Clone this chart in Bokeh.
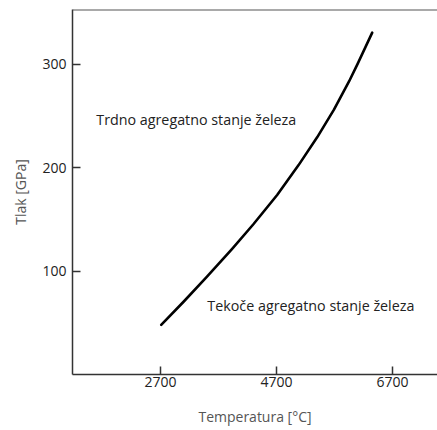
from bokeh.plotting import figure
from bokeh.models import Range1d, FixedTicker, Span, Label
from bokeh.embed import file_html
from bokeh.resources import INLINE

# Data
temperature = [2710, 3100, 3500, 3930, 4300, 4710, 5080, 5400, 5690, 5950, 6100, 6350]
pressure = [48, 70.6, 94.6, 121.3, 145.3, 173.6, 202.5, 229.4, 256.1, 283.4, 300.6, 330.6]
x_ticks = [2700, 4700, 6700]
y_ticks = [100, 200, 300]
label_solid = "Trdno agregatno stanje železa"
label_liquid = "Tekoče agregatno stanje železa"
x_label = "Temperatura [°C]"
y_label = "Tlak [GPa]"

FONT = "Open Sans"

p = figure(width=437, height=430, output_backend="svg", toolbar_location=None,
           x_range=Range1d(1180, 7476), y_range=Range1d(0, 353),
           min_border_left=72, min_border_right=0, min_border_top=9,
           min_border_bottom=56)
p.outline_line_color = None
p.xgrid.visible = False
p.ygrid.visible = False
p.background_fill_color = "white"
p.border_fill_color = "white"

p.line(temperature, pressure, line_color="black", line_width=2.6,
       line_join="round", line_cap="round")

for ax in (p.xaxis[0], p.yaxis[0]):
    ax.axis_line_color = "#333333"
    ax.axis_line_width = 1.5
    ax.major_tick_line_color = "#333333"
    ax.major_tick_line_width = 1.5
    ax.major_tick_in = 8
    ax.major_tick_out = 0
    ax.minor_tick_line_color = None
    ax.major_label_text_font = FONT
    ax.major_label_text_font_size = "14px"
    ax.major_label_text_color = "#222222"
    ax.axis_label_text_font = FONT
    ax.axis_label_text_font_size = "14px"
    ax.axis_label_text_font_style = "normal"
    ax.axis_label_text_color = "#555555"

p.xaxis[0].ticker = FixedTicker(ticks=x_ticks)
p.yaxis[0].ticker = FixedTicker(ticks=y_ticks)
p.xaxis[0].major_label_standoff = 2
p.yaxis[0].major_label_standoff = 6
p.xaxis[0].axis_label = x_label
p.yaxis[0].axis_label = y_label
p.xaxis[0].axis_label_standoff = 17
p.yaxis[0].axis_label_standoff = 9

top = Span(location=353, dimension="width", line_color="#555555", line_width=2)
p.add_layout(top)

p.add_layout(Label(x=1590, y=246.6, text=label_solid, text_font=FONT,
                   text_font_size="14.3px", text_color="#222222",
                   text_baseline="middle", text_align="left"))
p.add_layout(Label(x=3506, y=67, text=label_liquid, text_font=FONT,
                   text_font_size="14.3px", text_color="#222222",
                   text_baseline="middle", text_align="left"))

open("out.html", "w").write(file_html(p, INLINE))
